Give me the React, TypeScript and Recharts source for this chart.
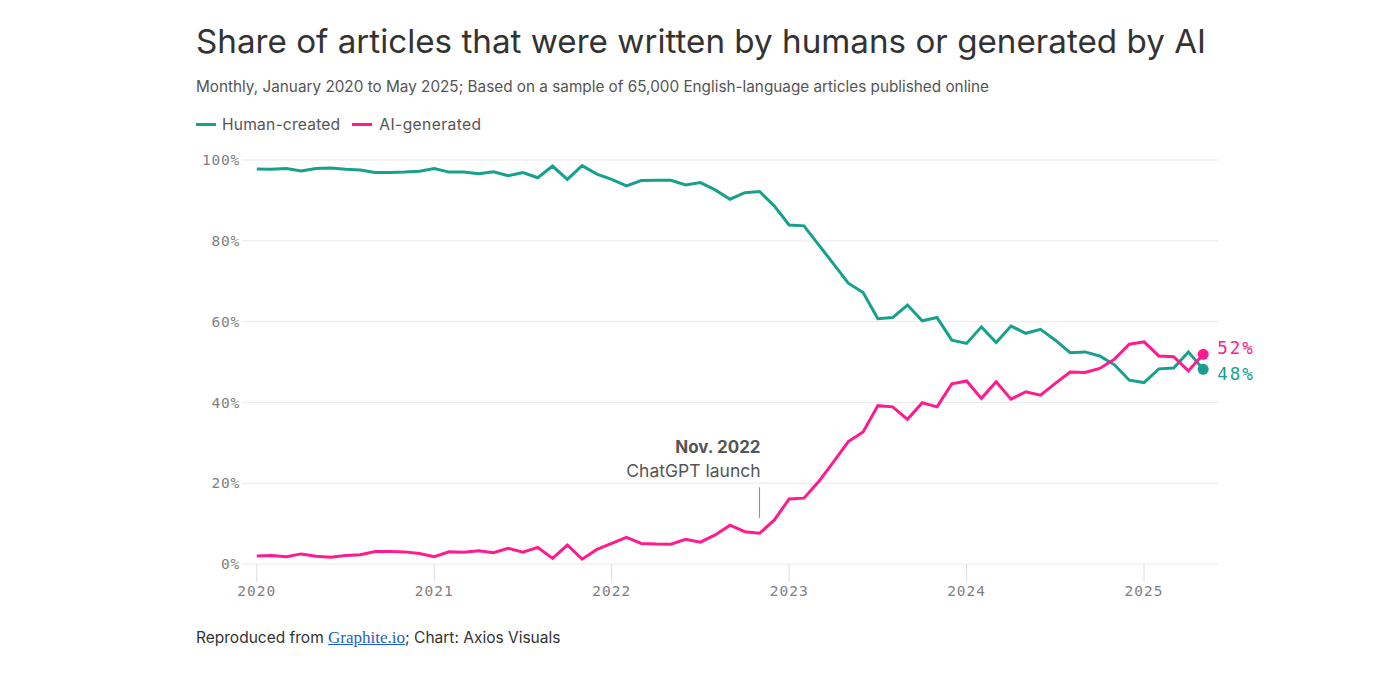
import React from 'react';
import { LineChart, Line, XAxis, YAxis, CartesianGrid, ReferenceLine, LabelList } from 'recharts';

const TEAL = '#17a08c';
const PINK = '#ff1a8d';

// Jan 2020 .. May 2025, one value per month (%)
const humanCreated = [
  97.8, 97.7, 97.9, 97.3, 97.9, 98.0, 97.7, 97.5, 96.9, 96.9, 97.0, 97.2,
  97.9, 97.0, 97.0, 96.6, 97.1, 96.1, 96.9, 95.6, 98.5, 95.2, 98.6, 96.5,
  95.2, 93.6, 94.9, 95.0, 95.0, 93.8, 94.4, 92.6, 90.3, 91.9, 92.2, 88.6,
  83.9, 83.7, 79.0, 74.3, 69.5, 67.2, 60.7, 61.0, 64.1, 60.2, 61.0, 55.4,
  54.6, 58.7, 54.8, 58.9, 57.1, 58.1, 55.4, 52.3, 52.5, 51.5, 49.3, 45.5,
  44.9, 48.3, 48.5, 52.5, 48.2,
];
const aiGenerated = [
  2.0, 2.1, 1.8, 2.5, 1.9, 1.7, 2.1, 2.3, 3.1, 3.1, 3.0, 2.6,
  1.8, 3.0, 2.9, 3.3, 2.8, 3.9, 2.9, 4.1, 1.4, 4.7, 1.2, 3.6,
  5.1, 6.6, 5.1, 4.95, 4.9, 6.1, 5.4, 7.2, 9.6, 8.0, 7.6, 10.9,
  16.1, 16.3, 20.4, 25.3, 30.3, 32.7, 39.2, 38.9, 35.8, 39.9, 38.9, 44.6,
  45.3, 41.0, 45.1, 40.8, 42.6, 41.8, 44.7, 47.5, 47.4, 48.4, 50.7, 54.4,
  55.0, 51.5, 51.3, 47.8, 51.9,
];
const yearTicks = [0, 12, 24, 36, 48, 60];
const yearLabels = ['2020', '2021', '2022', '2023', '2024', '2025'];
const yTicks = [0, 20, 40, 60, 80, 100];

// annotation: Nov. 2022 (month index 34)
const launchMonth = 34;
const launchMarker = [11.4, 19];

const data = humanCreated.map((h, i) => ({ m: i, human: h, ai: aiGenerated[i] }));
const last = data.length - 1;

const SANS = 'Inter, "Noto Sans", sans-serif';
const MONO = '"DejaVu Sans Mono", "Liberation Mono", monospace';

const endDot = (color: string) => (props: any) => {
  if (props.index !== last) return <g key={props.key ?? props.index} />;
  return <circle key={props.key ?? props.index} cx={props.cx} cy={props.cy} r={5.5} fill={color} />;
};

const endLabel = (color: string, dy: number) => (props: any) => {
  if (props.index !== last) return null;
  return (
    <text x={props.x + 14} y={props.y + dy} fill={color} fontFamily={MONO} fontSize={17.5}
      letterSpacing={2} dominantBaseline="central">
      {Math.round(Number(props.value))}%
    </text>
  );
};

const LaunchLabel = (props: any) => {
  const vb = props.viewBox || {};
  const x = vb.x + 1;
  const top = vb.y;
  return (
    <g>
      <text x={x} y={top - 34} textAnchor="end" fontFamily={SANS} fontSize={17} fontWeight={700} fill="#555">Nov. 2022</text>
      <text x={x} y={top - 10} textAnchor="end" fontFamily={SANS} fontSize={17.5} fill="#555">ChatGPT launch</text>
    </g>
  );
};

export default function App() {
  return (
    <div style={{ position: 'absolute', left: 0, top: 0, width: 1378, height: 689, background: '#fff', fontFamily: SANS }}>
      <div style={{ position: 'absolute', left: 196, top: 21, fontSize: 33.2, color: '#333', whiteSpace: 'nowrap' }}>
        Share of articles that were written by humans or generated by AI
      </div>
      <div style={{ position: 'absolute', left: 196, top: 77, fontSize: 15.3, color: '#555', whiteSpace: 'nowrap' }}>
        Monthly, January 2020 to May 2025; Based on a sample of 65,000 English-language articles published online
      </div>
      <div style={{ position: 'absolute', left: 196, top: 115, fontSize: 15.6, color: '#555', display: 'flex', alignItems: 'center', whiteSpace: 'nowrap' }}>
        <span style={{ display: 'inline-block', width: 20, height: 3, background: TEAL, marginRight: 6 }} />
        <span style={{ marginRight: 12, letterSpacing: 0.2 }}>Human-created</span>
        <span style={{ display: 'inline-block', width: 20, height: 3, background: PINK, marginRight: 7 }} />
        <span style={{ letterSpacing: 0.4 }}>AI-generated</span>
      </div>
      <div style={{ position: 'absolute', left: 0, top: 0 }}>
        <LineChart width={1378} height={689} data={data} margin={{ top: 160, right: 160, left: 182, bottom: 95 }}>
          <CartesianGrid vertical={false} stroke="#e9e9e9" />
          <XAxis dataKey="m" type="number" domain={[-1, 65]} ticks={yearTicks} height={30}
            tickFormatter={(v: number) => yearLabels[yearTicks.indexOf(v)]}
            axisLine={false} tickSize={18} tickMargin={4} tickLine={{ stroke: '#ddd' }}
            tick={{ fill: '#7f7f7f', fontFamily: MONO, fontSize: 14.5, letterSpacing: 1 }} />
          <YAxis type="number" domain={[0, 100]} ticks={yTicks} width={60}
            tickFormatter={(v: number) => `${v}%`} axisLine={false} tickLine={false} tickSize={0} tickMargin={2}
            tick={{ fill: '#7f7f7f', fontFamily: MONO, fontSize: 14.5, letterSpacing: 0.8 }} />
          <ReferenceLine segment={[{ x: launchMonth, y: launchMarker[0] }, { x: launchMonth, y: launchMarker[1] }]}
            stroke="#888" strokeWidth={1} label={<LaunchLabel />} />
          <Line type="linear" dataKey="human" stroke={TEAL} strokeWidth={3} dot={endDot(TEAL)} activeDot={false} isAnimationActive={false}>
            <LabelList dataKey="human" content={endLabel(TEAL, 5)} />
          </Line>
          <Line type="linear" dataKey="ai" stroke={PINK} strokeWidth={3} dot={endDot(PINK)} activeDot={false} isAnimationActive={false}>
            <LabelList dataKey="ai" content={endLabel(PINK, -6)} />
          </Line>
        </LineChart>
      </div>
      <div style={{ position: 'absolute', left: 196, top: 628, fontSize: 15.5, color: '#333', whiteSpace: 'nowrap' }}>
        Reproduced from <a href="#" style={{ fontFamily: 'serif', fontSize: 17, color: '#1a5fd0' }}>Graphite.io</a>; Chart: Axios Visuals
      </div>
    </div>
  );
}
